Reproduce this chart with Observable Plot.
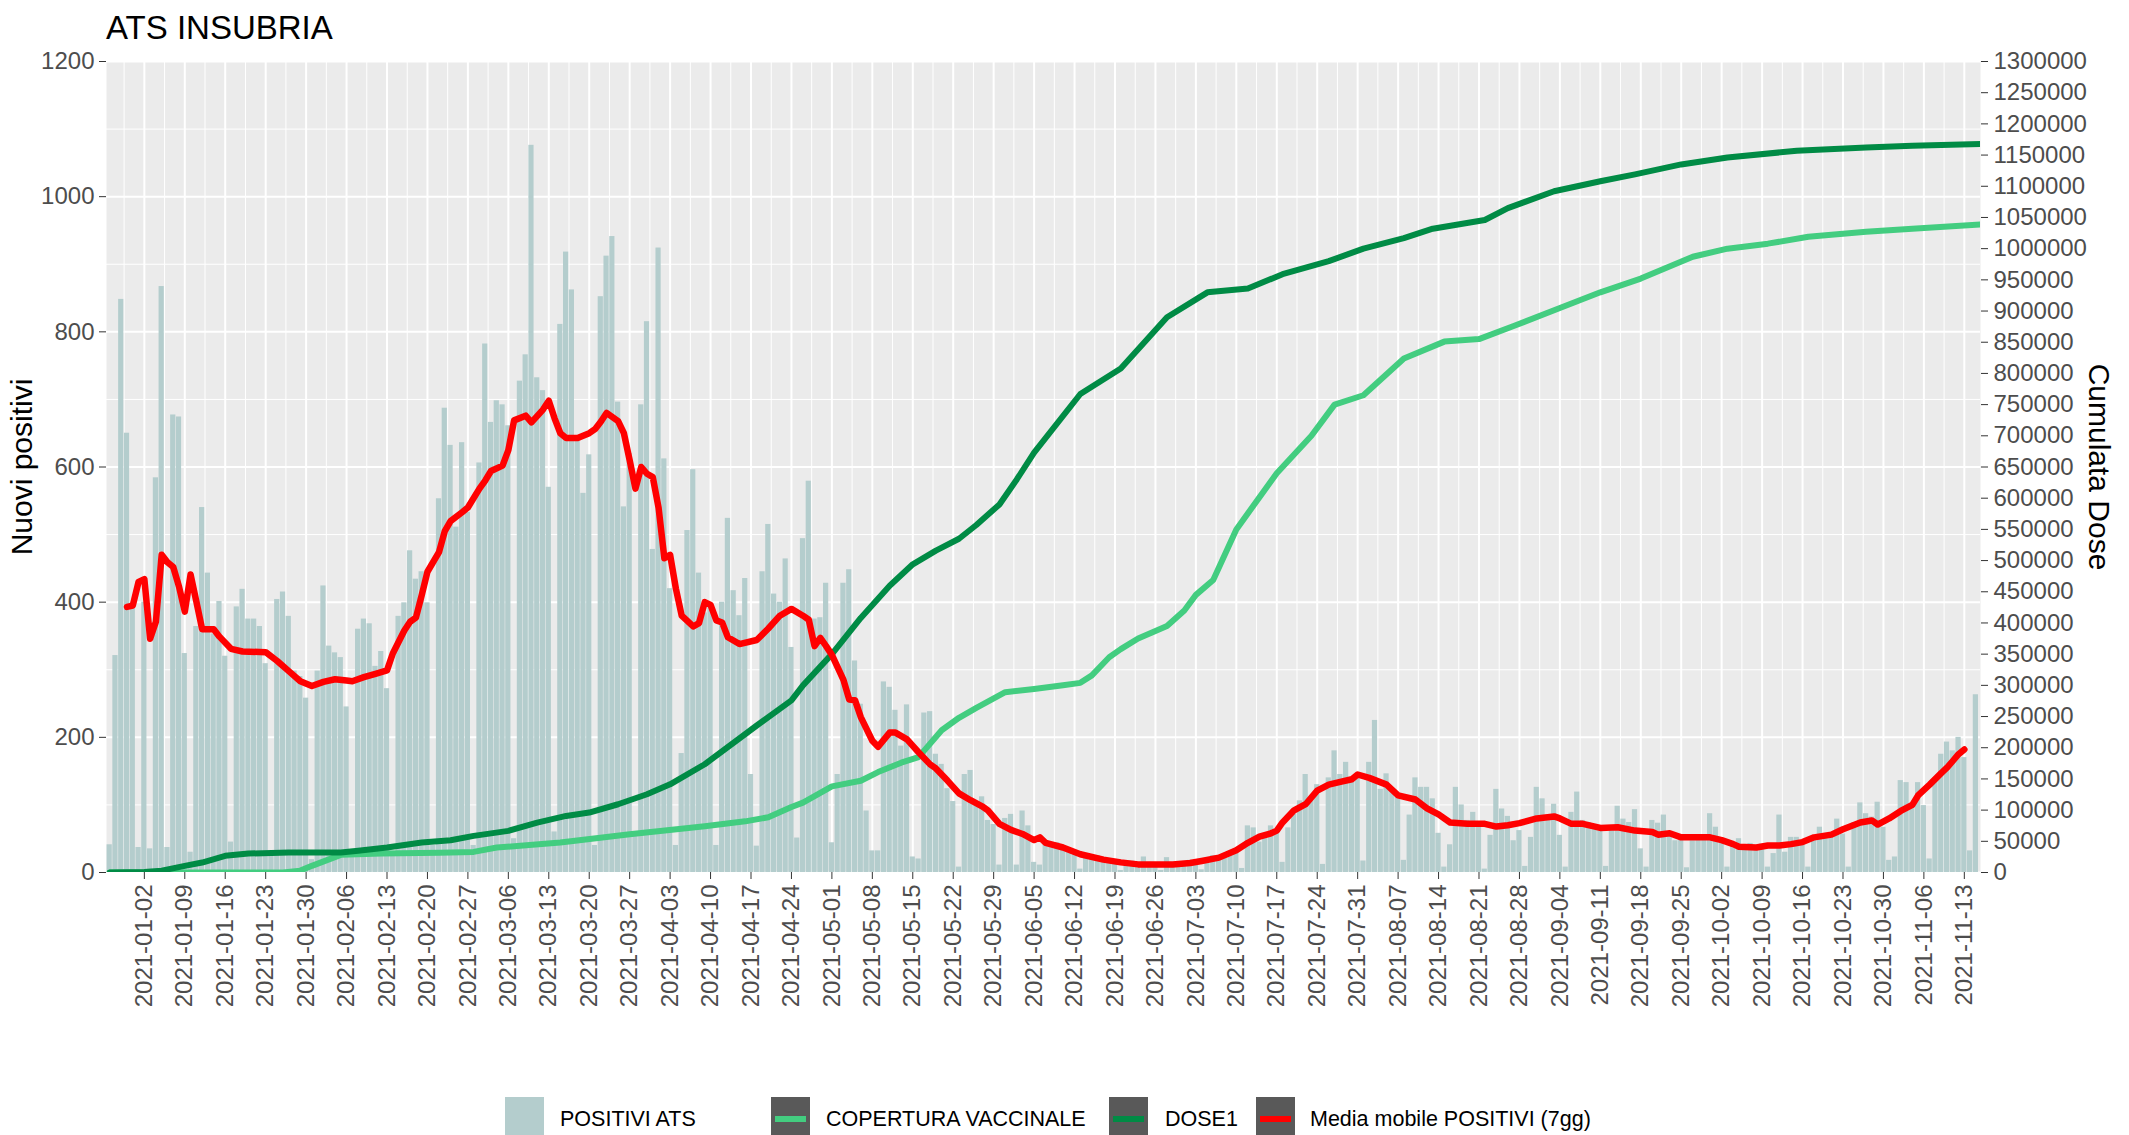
<!DOCTYPE html>
<html><head><meta charset="utf-8">
<script src="https://cdn.jsdelivr.net/npm/d3@7"></script>
<script src="https://cdn.jsdelivr.net/npm/@observablehq/plot@0.6"></script>
<style>
body{margin:0;background:#fff;width:2129px;height:1135px;overflow:hidden;position:relative;font-family:"Liberation Sans",Arial,sans-serif;}
#title{position:absolute;left:106px;top:11px;font-size:33px;line-height:33px;color:#000;white-space:nowrap;z-index:2;}
#chart{position:absolute;left:0;top:0;}
.key{position:absolute;top:1097px;width:39px;height:44px;background:#595959;}
.key i{position:absolute;left:4px;right:4px;top:19px;height:6px;}
.lt{position:absolute;top:1097px;height:44px;line-height:44px;font-size:21.5px;color:#000;white-space:nowrap;}
</style></head><body>
<div id="chart"></div>
<div id="title">ATS INSUBRIA</div>
<div class="key" style="left:505px;background:#B4CDCD"></div><div class="lt" style="left:560px">POSITIVI ATS</div>
<div class="key" style="left:771px"><i style="background:#43CD80"></i></div><div class="lt" style="left:826px">COPERTURA VACCINALE</div>
<div class="key" style="left:1109px"><i style="background:#008B45"></i></div><div class="lt" style="left:1165px">DOSE1</div>
<div class="key" style="left:1256px"><i style="background:#FF0000"></i></div><div class="lt" style="left:1310px">Media mobile POSITIVI (7gg)</div>
<script>
// ---- data ----
const startDate = "2020-12-27"; // first bar
const positivi = [
41,321,848,650,400,37,400,35,584,867,
37,677,674,324,30,364,540,443,353,401,
320,45,393,419,375,375,364,309,26,404,
415,379,298,290,258,19,298,424,335,325,
318,245,30,360,375,368,305,327,272,30,
379,399,476,434,445,399,40,553,687,632,
511,636,533,40,606,782,666,698,692,661,
50,727,766,1076,732,713,570,60,811,918,
862,640,561,618,40,852,912,941,696,541,
620,55,692,815,478,924,612,420,40,176,
506,596,443,384,392,40,400,524,417,380,
435,145,39,445,515,412,400,464,333,51,
494,579,375,377,428,44,145,428,448,313,
249,91,32,32,282,274,240,187,248,23,
20,236,238,175,160,124,105,8,145,151,
100,112,77,71,11,80,86,11,91,69,
15,11,47,44,44,37,30,27,5,22,
20,25,18,15,14,3,14,17,12,23,
15,12,3,22,15,13,14,18,16,4,
20,25,24,28,30,28,6,69,66,45,
52,69,60,15,66,86,106,145,111,130,
12,140,180,145,163,135,145,17,163,225,
123,146,121,111,18,85,140,126,126,109,
58,8,41,126,100,77,89,74,5,55,
123,94,83,47,62,9,52,126,109,85,
101,55,8,89,119,77,74,67,67,9,
67,98,79,74,93,35,8,77,73,85,
57,47,48,7,47,50,55,87,67,47,
8,42,50,40,43,35,42,8,28,85,
30,52,52,47,8,52,67,55,52,79,
57,8,74,103,87,82,104,67,18,23,
136,133,99,133,99,20,140,175,193,180,
200,170,32,263];

// day offsets from startDate where the lines were read
const dose1Days = [0,6,9,13,16,20,24,31,40,43,48,54,59,63,69,74,79,83,88,93,97,103,112,118,120,125,130,135,139,143,147,150,154,157,160,168,175,183,190,197,203,211,217,224,229,238,242,250,258,264,272,280,292,304,312,324];
const dose1 = [0,1000,3000,10700,16000,26700,30400,32000,32000,34700,40000,48000,51800,58700,66700,80000,90700,96100,109400,125400,141400,173500,235600,276000,300000,350000,408000,459600,494000,516000,535000,557000,590000,630000,673000,767000,808000,890000,930000,936000,959000,980000,1000000,1017000,1032000,1046000,1065000,1092000,1108000,1119000,1135000,1146000,1157000,1162000,1165000,1168000];

const coperturaDays = [0,30,33,35,40,47,57,63,67,78,90,103,110,114,118,120,125,130,133,137,140,144,147,150,155,160,165,168,170,173,175,178,183,186,188,191,195,202,208,212,217,224,231,237,243,251,258,265,274,280,287,294,304,312,324];
const copertura = [0,0,3000,10700,28300,30400,31500,33000,40000,48000,61400,74000,82000,88500,105000,112000,138000,147000,161000,176000,185000,228000,248000,264000,289000,294000,300000,304000,316000,345000,358000,375000,395000,420000,445000,469000,550000,640000,700000,750000,765000,824000,851000,855000,876000,905000,930000,952000,987000,1000000,1008000,1019000,1027000,1032000,1039000];

const mediaDays = [3,4,5,6,7,8,9,10,11,12,13,14,15,16,18,19,21,23,27,29,31,33,35,37,39,41,42,44,46,48,49,51,52,53,54,55,57,58,59,61,62,64,65,66,68,69,70,72,73,75,76,77,78,79,81,83,84,85,86,88,89,90,91,92,93,94,95,96,97,98,99,101,102,103,104,105,106,107,109,112,114,116,118,120,121,122,123,124,125,127,128,129,130,132,133,135,136,138,140,142,143,145,147,149,151,152,154,156,158,160,161,162,165,168,172,175,178,184,187,189,192,195,197,199,201,202,203,205,207,209,211,213,215,216,218,221,223,226,228,230,232,235,238,240,242,244,247,250,251,253,255,258,261,264,267,268,270,272,274,277,279,281,282,285,287,289,291,293,295,298,300,303,305,306,308,310,312,313,315,317,318,319,320,321];
const mediaMobile = [393,395,430,434,346,371,470,459,452,423,386,441,401,360,360,349,331,327,326,313,298,283,276,282,286,284,283,289,294,299,324,358,371,377,410,445,474,505,520,533,540,568,580,594,602,625,669,676,666,685,698,672,650,643,643,650,656,667,680,668,650,610,568,600,590,585,540,465,470,420,380,364,369,400,396,373,370,348,338,344,361,380,390,380,374,335,347,335,322,285,256,255,230,195,186,207,207,197,178,160,154,136,117,107,98,92,72,63,57,48,52,44,37,27,19,15,12,12,14,17,22,33,44,53,58,62,74,92,101,121,130,134,138,145,140,130,114,108,95,86,74,72,72,68,70,73,80,83,80,72,72,66,67,62,60,56,58,52,52,52,48,42,38,37,40,40,42,45,52,56,64,74,77,71,80,91,100,114,130,147,155,165,175,182];

const leftTicks = [0,200,400,600,800,1000,1200];
const leftMinor = [100,300,500,700,900,1100];
const rightTicks = d3.range(0, 1300001, 50000);
const firstTick = "2021-01-02", lastTick = "2021-11-13";

// ---- build ----
const DAY = 864e5;
const t0 = Date.parse(startDate + "T00:00:00Z");
const at = i => new Date(t0 + i * DAY);
const K = 1300000 / 1200; // right axis / left axis
const bars = positivi.map((v, i) => ({date: at(i), value: v}));
const lineD1 = dose1Days.map((d, i) => ({date: at(d), v: dose1[i]}));
const lineCop = coperturaDays.map((d, i) => ({date: at(d), v: copertura[i]}));
const lineMM = mediaDays.map((d, i) => ({date: at(d), v: mediaMobile[i]}));
const weekTicks = d3.utcDays(new Date(firstTick + "T00:00:00Z"), new Date(Date.parse(lastTick + "T00:00:00Z") + 1), 7);
const minorX = weekTicks.map(d => new Date(+d - 3.5 * DAY)).concat([new Date(+weekTicks[weekTicks.length-1] + 3.5*DAY)]);

const plot = Plot.plot({
  width: 2129, height: 1050,
  marginLeft: 106, marginRight: 149, marginTop: 61, marginBottom: 178,
  style: {background: "transparent", fontFamily: "'Liberation Sans', Arial, sans-serif", fontSize: "24px", color: "#4D4D4D", overflow: "visible"},
  x: {type: "utc", domain: [at(-0.55), at(323.8)]},
  y: {domain: [0, 1200]},
  marks: [
    Plot.frame({fill: "#EBEBEB", stroke: null}),
    Plot.ruleY(leftMinor, {stroke: "#fff", strokeWidth: 1}),
    Plot.ruleY(leftTicks, {stroke: "#fff", strokeWidth: 2}),
    Plot.ruleX(minorX, {stroke: "#fff", strokeWidth: 1, clip: true}),
    Plot.ruleX(weekTicks, {stroke: "#fff", strokeWidth: 2}),
    Plot.rect(bars, {x1: d => new Date(+d.date - 0.45*DAY), x2: d => new Date(+d.date + 0.45*DAY), y1: 0, y2: "value", fill: "#B4CDCD"}),
    Plot.line(lineCop, {x: "date", y: d => d.v / K, stroke: "#43CD80", strokeWidth: 6, clip: true}),
    Plot.line(lineD1, {x: "date", y: d => d.v / K, stroke: "#008B45", strokeWidth: 6, clip: true}),
    Plot.line(lineMM, {x: "date", y: "v", stroke: "#FF0000", strokeWidth: 6.5}),
    Plot.axisY(leftTicks, {anchor: "left", tickSize: 7, tickPadding: 5, label: null, stroke: "#333", tickFormat: d => String(d)}),
    Plot.axisY(rightTicks.map(v => v / K), {anchor: "right", tickSize: 7, tickPadding: 6, label: null, stroke: "#333", tickFormat: d => String(Math.round(d * K))}),
    Plot.axisX(weekTicks, {anchor: "bottom", tickSize: 7, tickPadding: 5, tickRotate: -90, label: null, stroke: "#333", tickFormat: d3.utcFormat("%Y-%m-%d")}),
    Plot.text(["Nuovi positivi"], {text: d => d, frameAnchor: "left", dx: -84, rotate: -90, textAnchor: "middle", fontSize: 30, fill: "#000"}),
    Plot.text(["Cumulata Dose"], {text: d => d, frameAnchor: "right", dx: 118, rotate: 90, textAnchor: "middle", fontSize: 30, fill: "#000"})
  ]
});
document.getElementById("chart").appendChild(plot);
</script>
</body></html>
